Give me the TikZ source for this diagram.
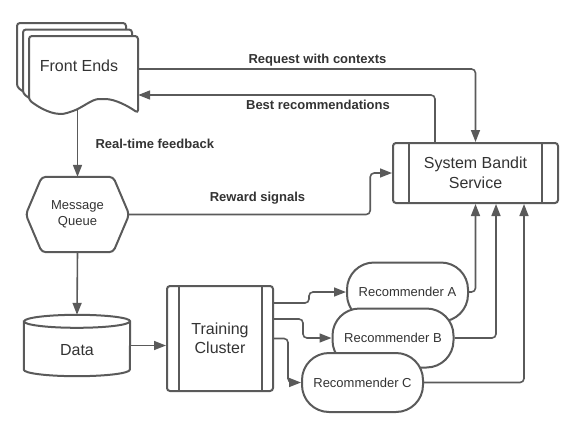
\documentclass[tikz,border=0pt]{standalone}
\usepackage{fontspec}
\setmainfont{Liberation Sans}
\usetikzlibrary{arrows.meta}
\definecolor{linegray}{HTML}{5A5A5A}
\definecolor{textgray}{HTML}{333333}

\begin{document}
\begin{tikzpicture}[x=1pt, y=-1pt,
    every node/.style={text=textgray, font=\fontsize{16}{19.5}\selectfont, align=center},
    shapeline/.style={draw=linegray, line width=2pt},
    conn/.style={draw=linegray, line width=1.6pt, rounded corners=4pt, -{Triangle[length=12pt,width=9pt]}},
    lbl/.style={font=\bfseries\fontsize{13}{15}\selectfont},
    ghost/.style={inner sep=0pt},
    process/.style={shapeline, rounded corners=3pt, inner sep=0pt, path picture={
        \draw[linegray, line width=2pt] ([xshift=#1]path picture bounding box.north west) -- ([xshift=#1]path picture bounding box.south west)
          ([xshift=-#1]path picture bounding box.north east) -- ([xshift=-#1]path picture bounding box.south east);}},
    recommender/.style={shapeline, fill=white, rounded corners=27pt, minimum width=121pt, minimum height=59pt, inner sep=0pt, font=\fontsize{13}{15}\selectfont}]
    \useasboundingbox (0,0) rectangle (581,434);

    % front ends (stacked documents)
    \foreach \dx/\dy in {-12/-13,-6/-6.5,0/0}
      \draw[shapeline, fill=white, rounded corners=3pt, shift={(\dx,\dy)}] (29,100) -- (29,36) -- (138,36) -- (138,113)
        .. controls (128,106) and (115,99) .. (102,99) .. controls (92,99) and (82,108) .. (70,112)
        .. controls (58,116) and (45,112) .. (29,100) -- cycle;
    \node[ghost, minimum width=109pt, minimum height=77pt] (front) at (83.5,74.5) {};
    \node (fetitle) at (79,66) {Front Ends};
    \coordinate (fe-bottom) at (77.5,110);

    % message queue
    \node[ghost, minimum width=103pt, minimum height=75pt, font=\fontsize{13}{16}\selectfont] (mq) at (77.5,214.5) {Message\\Queue};
    \draw[shapeline, rounded corners=4pt] (mq.west) -- ([xshift=16pt]mq.north west) -- ([xshift=-16pt]mq.north east)
      -- (mq.east) -- ([xshift=-16pt]mq.south east) -- ([xshift=16pt]mq.south west) -- cycle;

    % data store
    \node[ghost, minimum width=106pt, minimum height=61pt] (data) at (77,345.5) {};
    \draw[shapeline, fill=white] ([yshift=-6.5pt]data.north west) -- ([yshift=6.5pt]data.south west)
      arc[start angle=180, end angle=360, x radius=53pt, y radius=6.5pt] -- ([yshift=-6.5pt]data.north east)
      arc[start angle=0, end angle=180, x radius=53pt, y radius=6.5pt] -- cycle;
    \draw[shapeline] ([yshift=-6.5pt]data.north west) arc[start angle=180, end angle=360, x radius=53pt, y radius=6.5pt];
    \node (datalbl) at ([yshift=-4.5pt]data.center) {Data};

    \node[process=11.5pt, minimum width=106pt, minimum height=105pt] (tc) at (220,338.5) {Training\\Cluster};
    \node[process=16pt, minimum width=165pt, minimum height=60pt] (sbs) at (475.5,173) {System Bandit\\Service};

    \node[recommender] (recA) at (407.5,292) {Recommender A};
    \node[recommender] (recB) at (393,338) {Recommender B};
    \node[recommender] (recC) at (362.5,382.5) {Recommender C};

    % connectors
    \draw[conn] (fe-bottom) -- (mq.north);
    \draw[conn] (mq.south) -- (data.north);
    \draw[conn] (data.east) -- (data.east -| tc.west);
    \draw[conn] ([yshift=5.5pt]front.east) -| (sbs.north);
    \draw[conn] ([xshift=-40.5pt]sbs.north) |- ([yshift=-20.5pt]front.east);
    \draw[conn] (mq.east) -- ++(241,0) |- (sbs.west);

    \draw[conn] ([yshift=35.5pt]tc.east) -- ++(35,0) |- (recA.west);
    \draw[conn] ([yshift=19.5pt]tc.east) -- ++(29,0) |- (recB.west);
    \draw[conn] (tc.east) -- ++(14,0) |- (recC.west);

    \draw[conn] (recA.east) -| (sbs.south);
    \draw[conn] (recB.east) -| ([xshift=20.5pt]sbs.south);
    \draw[conn] (recC.east) -| ([xshift=48.5pt]sbs.south);

    % labels
    \node[lbl] (lreq) at (317.5,60) {Request with contexts};
    \node[lbl] (lbest) at (318,105) {Best recommendations};
    \node[lbl, anchor=west] (lfb) at (92,144) {Real-time feedback};
    \node[lbl] (lrew) at (257.5,198) {Reward signals};
\end{tikzpicture}
\end{document}
